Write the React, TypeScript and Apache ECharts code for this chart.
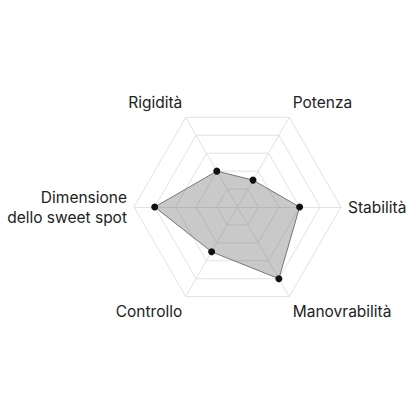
import React, { useEffect, useRef } from "react";
import * as echarts from "echarts";

const indicatorNames = [
  "Potenza",
  "Rigidità",
  "Dimensione\ndello sweet spot",
  "Controllo",
  "Manovrabilità",
  "Stabilità",
];
const topNames = ["Potenza", "Rigidità"];
const bottomNames = ["Controllo", "Manovrabilità"];
const maxValue = 5;
const values = [1.5, 2, 4, 2.5, 4, 3];

export default function App() {
  const ref = useRef<HTMLDivElement>(null);
  useEffect(() => {
    if (!ref.current) return;
    const chart = echarts.init(ref.current, null, { renderer: "svg" });
    chart.setOption({
      animation: false,
      backgroundColor: "#ffffff",
      radar: {
        center: [237.5, 207],
        radius: 103.5,
        startAngle: 60,
        splitNumber: 5,
        shape: "polygon",
        nameGap: 7,
        indicator: indicatorNames.map((name) => ({ name, max: maxValue, min: 0 })),
        axisName: {
          color: "#222222",
          fontSize: 15.5,
          fontFamily: "Inter",
          lineHeight: 20,
          formatter: (name: string) => {
            if (topNames.includes(name)) return `{t|${name}}\n{gap| }`;
            if (bottomNames.includes(name)) return `{gap| }\n{t|${name}}`;
            return name;
          },
          rich: {
            t: {
              color: "#222222",
              fontSize: 15.5,
              fontFamily: "Inter",
              lineHeight: 20,
            },
            gap: { fontSize: 10, lineHeight: 17 },
          },
        },
        axisLine: { lineStyle: { color: "#e2e2e2", width: 1 } },
        splitLine: { lineStyle: { color: "#e2e2e2", width: 1 } },
        splitArea: { show: false },
      },
      series: [
        {
          type: "radar",
          symbol: "circle",
          symbolSize: 7,
          itemStyle: { color: "#111111" },
          lineStyle: { color: "#777777", width: 1 },
          areaStyle: { color: "rgba(120,120,120,0.4)", opacity: 1 },
          data: [{ value: values }],
        },
      ],
    });
    return () => chart.dispose();
  }, []);
  return (
    <div
      ref={ref}
      style={{ position: "absolute", left: 0, top: 0, width: 416, height: 416 }}
    />
  );
}
